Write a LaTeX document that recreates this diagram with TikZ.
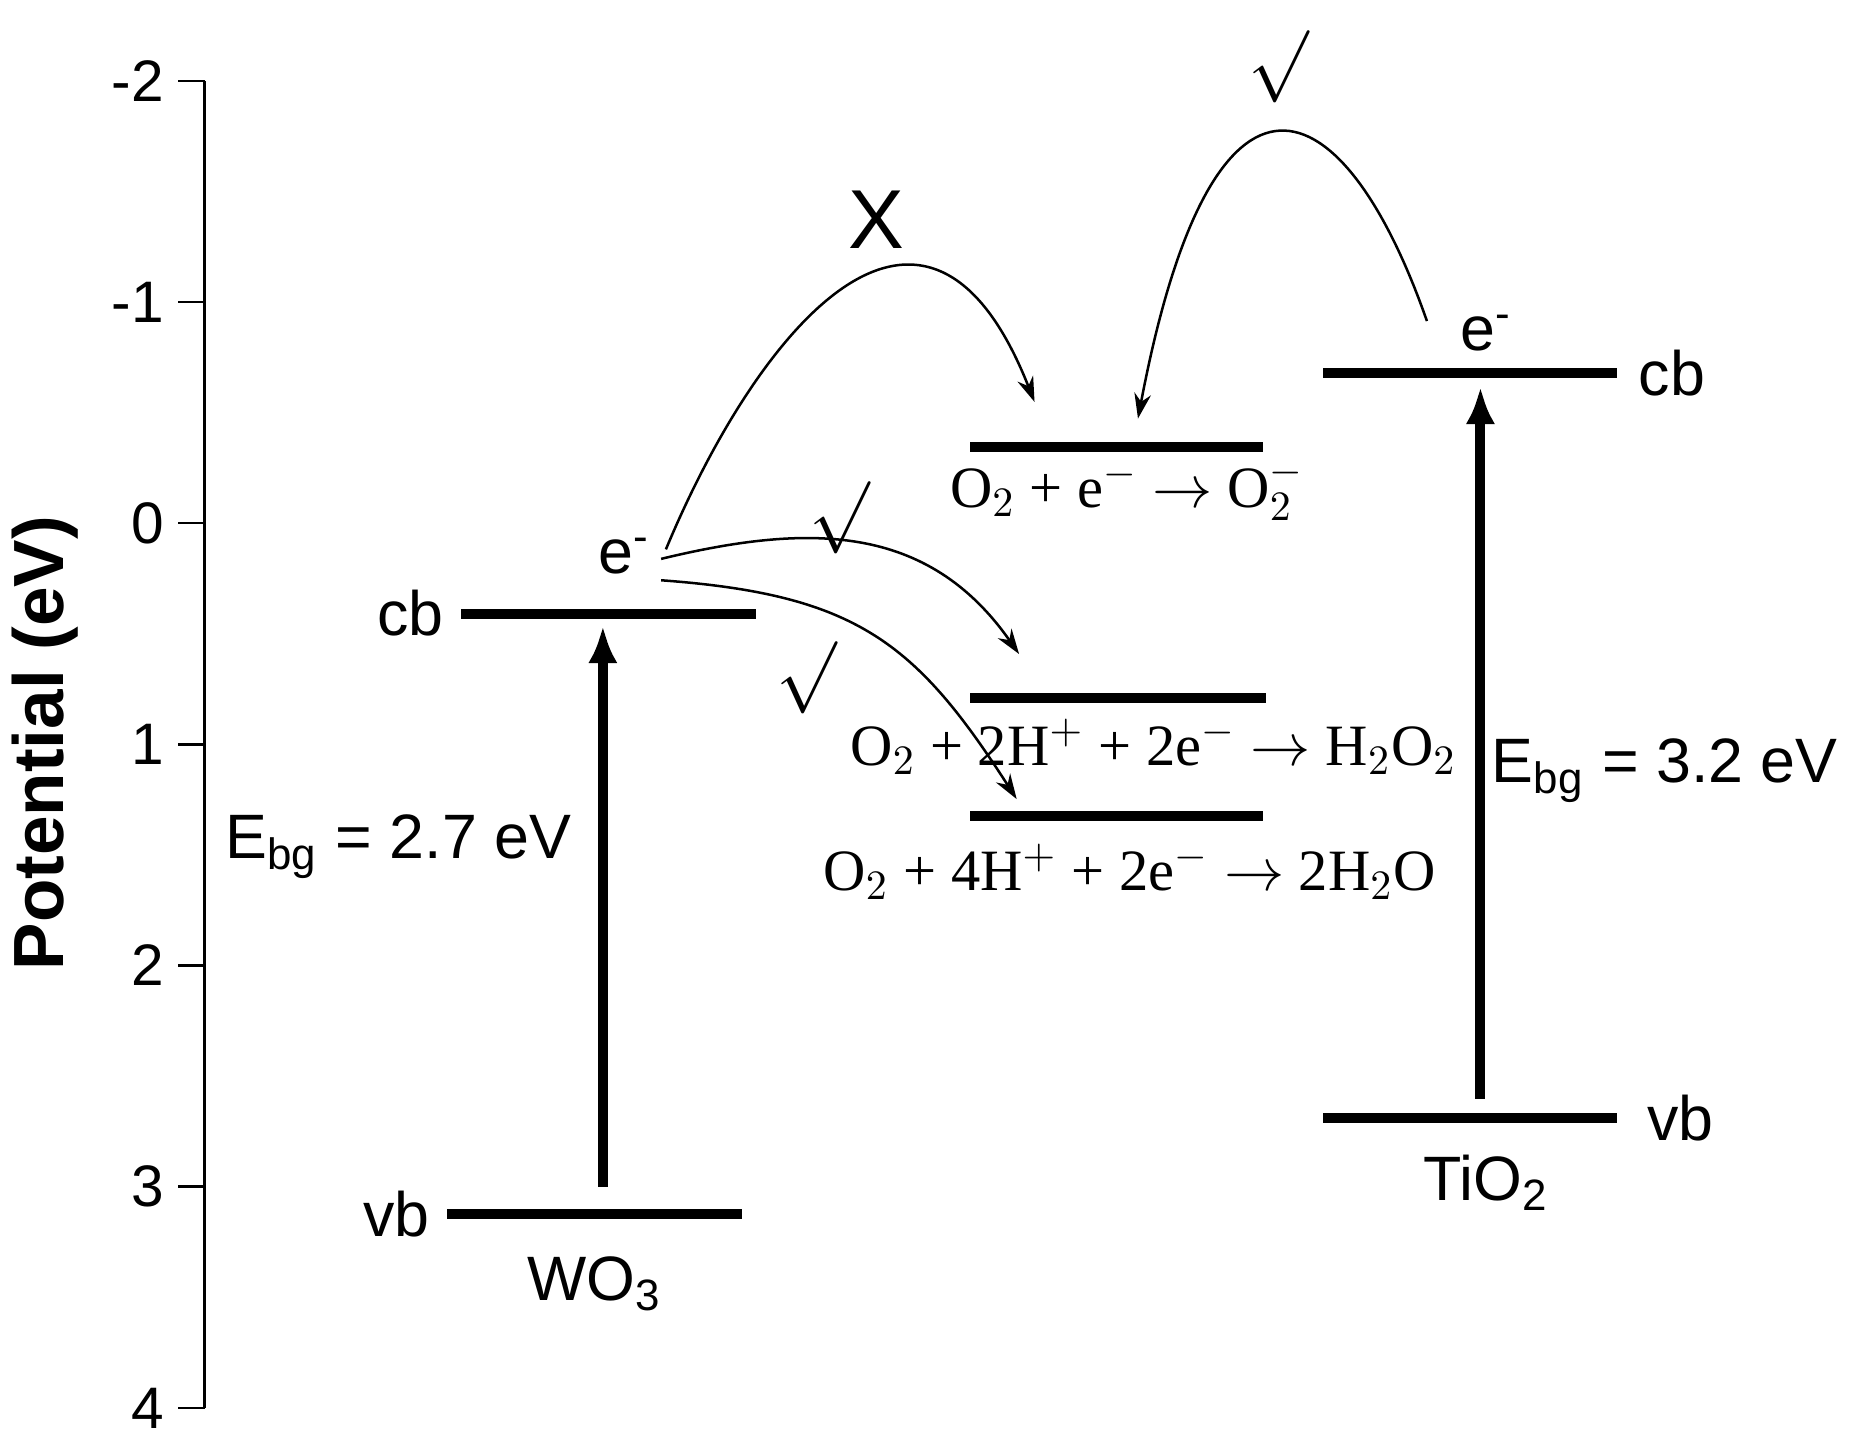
\documentclass[tikz,border=0pt]{standalone}
\usepackage{fontspec}
\setmainfont{Liberation Serif}
\setsansfont{Liberation Sans}
\usetikzlibrary{positioning,arrows.meta}
\begin{document}
\begin{tikzpicture}[x=0.01cm,y=-0.01cm,
	every node/.style={font=\fontsize{15}{18}\selectfont\sffamily, inner sep=1pt},
	level/.style={line width=2.4pt},
	gap/.style={line width=2.4pt, -{Latex[length=9pt,width=7pt]}},
	hop/.style={semithick, -{Stealth[length=6pt,width=4pt]}},
	rxn/.style={font=\fontsize{14}{16}\selectfont\rmfamily},
	tick/.style={anchor=east, font=\fontsize{14}{16}\selectfont\sffamily},
	okay/.style={font=\fontsize{16}{18}\selectfont\rmfamily, inner sep=0pt}
]
\useasboundingbox (0,0) rectangle (1560,1216);
% potential axis
\draw[semithick] (172,68) -- (172,1184);
\foreach \v [count=\i from 0] in {-2,-1,0,1,2,3,4}{
	\draw[semithick] (150,68+186*\i) -- (172,68+186*\i);
	\node[tick] (t\i) at (142,68+186*\i) {\v};
}
\node (axis) [rotate=90, font=\fontsize{17}{20}\selectfont\sffamily\bfseries] at (38,625) {Potential (eV)};
% WO3
\draw[level] (388,516) coordinate (wcbl) -- (636,516) coordinate (wcbr);
\draw[level] (376,1021) coordinate (wvbl) -- (624,1021);
\node (wcb) [left=3pt of wcbl] {cb};
\node (wvb) [left=3pt of wvbl] {vb};
\node (wo3) at (500,1080) {WO\textsubscript{3}};
\node (we) at (525,468) {e\textsuperscript{-}};
\coordinate (wbot) at (507,998);
\coordinate (wtop) at (507,526);
\draw[gap] (wbot) -- (wtop);
\node (wgap) at (335,712) {E\textsubscript{bg} = 2.7 eV};
% TiO2
\draw[level] (1113,314) coordinate (tcbl) -- (1360,314) coordinate (tcbr);
\draw[level] (1113,940) -- (1360,940) coordinate (tvbr);
\node (tcb) [right=4pt of tcbr] {cb};
\node (tvb) [right=6pt of tvbr] {vb};
\node (tio2) at (1250,995) {TiO\textsubscript{2}};
\node (te) at (1250,280) {e\textsuperscript{-}};
\coordinate (tbot) at (1245,924);
\coordinate (ttop) at (1245,325);
\draw[gap] (tbot) -- (ttop);
\node (tgap) at (1400,648) {E\textsubscript{bg} = 3.2 eV};
% oxygen reduction levels
\draw[level] (816,376) -- (1062,376);
\draw[level] (816,587) -- (1065,587);
\draw[level] (816,686) -- (1062,686);
\node[rxn] (r1) at (948,412) {O$_2$ + e$^-$ $\rightarrow$ O$_2^-$};
\node[rxn] (r2) at (970,628) {O$_2$ + 2H$^+$ + 2e$^-$ $\rightarrow$ H$_2$O$_2$};
\node[rxn] (r3) at (950,733) {O$_2$ + 4H$^+$ + 2e$^-$ $\rightarrow$ 2H$_2$O};
% electron transfer
\coordinate (wa) at (560,462);
\coordinate (wb) at (556,470);
\coordinate (wc) at (556,488);
\coordinate (ta) at (1200,270);
\draw[hop] (wa) .. controls (640,270) and (780,110) .. (870,338);
\draw[hop] (ta) .. controls (1130,70) and (1020,20) .. (957,352);
\draw[hop] (wb) .. controls (680,440) and (780,440) .. (857,550);
\draw[hop] (wc) .. controls (720,500) and (770,540) .. (855,672);
\node (x) [font=\fontsize{20}{24}\selectfont\sffamily] at (737,185) {X};
\node (ok1) [okay] at (1075,56) {$\surd$};
\node (ok2) [okay] at (706,435) {$\surd$};
\node (ok3) [okay] at (678,570) {$\surd$};
\end{tikzpicture}
\end{document}
